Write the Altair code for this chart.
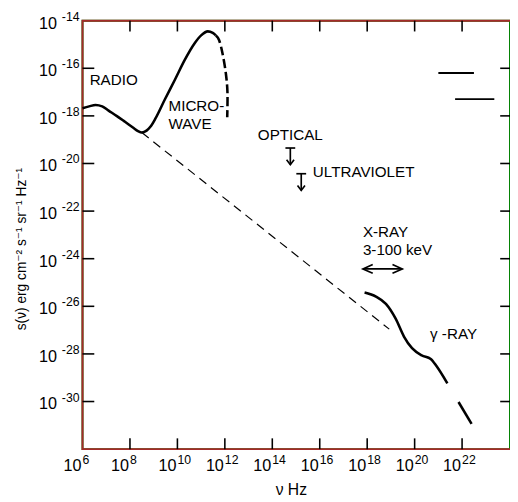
import altair as alt
import pandas as pd

# ---------------- data (log10 values) ----------------
radio_lognu = [6.00, 6.28, 6.55, 6.83, 7.10, 7.45, 7.79, 8.14, 8.34, 8.50, 8.70,
               8.86, 9.07, 9.48, 9.90, 10.31, 10.72, 11.00, 11.28, 11.49, 11.62]
radio_logs = [-17.68, -17.60, -17.54, -17.60, -17.78, -18.01, -18.25, -18.50, -18.64, -18.70, -18.62,
              -18.46, -18.12, -17.29, -16.47, -15.65, -14.96, -14.62, -14.45, -14.51, -14.62]

mw_dash_lognu = [11.62, 11.76, 11.90, 12.04, 12.11, 12.10]
mw_dash_logs = [-14.62, -14.82, -15.37, -16.20, -17.02, -18.06]

ext_lognu = [8.50, 18.93]
ext_logs = [-18.70, -26.96]

gamma_lognu = [17.89, 18.37, 18.79, 19.20, 19.55, 19.89, 20.30, 20.68, 20.92, 21.38]
gamma_logs = [-25.42, -25.59, -25.90, -26.52, -27.27, -27.76, -28.06, -28.21, -28.51, -29.24]

gamma_ext_lognu = [21.85, 22.40]
gamma_ext_logs = [-30.02, -30.94]

limit_lognu = [14.76, 15.22]      # optical, ultraviolet upper limits
limit_logs = [-19.35, -20.43]

xray_band_lognu = [17.82, 19.48]  # 3-100 keV band
xray_band_logs = [-24.43, -24.43]

labels_text = ["RADIO", "MICRO-", "WAVE", "OPTICAL", "ULTRAVIOLET", "X-RAY", "3-100 keV", "γ -RAY"]
labels_lognu = [6.30, 9.625, 9.625, 13.39, 15.71, 17.82, 17.82, 20.65]
labels_logs = [-16.51, -17.60, -18.36, -18.80, -20.38, -22.88, -23.64, -27.18]

x_tick_exp = [6, 8, 10, 12, 14, 16, 18, 20, 22]
y_tick_exp = [-14, -16, -18, -20, -22, -24, -26, -28, -30]

y_title = "s(ν) erg cm⁻² s⁻¹ sr⁻¹ Hz⁻¹"
x_title = "ν   Hz"

# ---------------- layout ----------------
W, H = 436, 437
LX0, LX1 = 6.0, 24.02
LY0, LY1 = -32.0, -14.0
XDOM = [10 ** LX0, 10 ** LX1]
YDOM = [10 ** LY0, 10 ** LY1]
PXX = W / (LX1 - LX0)
PXY = H / (LY1 - LY0)
FONT = "Liberation Sans, DejaVu Sans, sans-serif"
INK = "#000000"

xs = alt.Scale(type="log", domain=XDOM, nice=False)
ys = alt.Scale(type="log", domain=YDOM, nice=False)


def X(f="x"):
    return alt.X(f, type="quantitative", scale=xs, axis=None)


def Y(f="y"):
    return alt.Y(f, type="quantitative", scale=ys, axis=None)


def frame(lx, ly):
    return pd.DataFrame({"x": [10 ** v for v in lx], "y": [10 ** v for v in ly],
                         "i": list(range(len(lx)))})


def segments(polys):
    rows = []
    for s, pts in enumerate(polys):
        for i, (a, b) in enumerate(pts):
            rows.append({"x": 10 ** a, "y": 10 ** b, "seg": s, "i": i})
    return pd.DataFrame(rows)


layers = []

# frame (top, left, bottom): brown test colour
box = [[(LX1, LY1), (LX0, LY1), (LX0, LY0), (LX1, LY0)]]
layers.append(alt.Chart(segments(box)).mark_line(color="#a52a2a", strokeWidth=2).encode(
    x=X(), y=Y(), detail="seg:N", order="i:Q"))

# inward ticks, black
tx = 11 / PXY
ty = 12 / PXX
tr = 10 / PXX
tk = []
for e in x_tick_exp[1:]:
    tk.append([(e, LY1), (e, LY1 - tx)])
    tk.append([(e, LY0), (e, LY0 + tx)])
for e in y_tick_exp[1:]:
    tk.append([(LX0, e), (LX0 + ty, e)])
    tk.append([(LX1 - tr, e), (LX1, e)])
layers.append(alt.Chart(segments(tk)).mark_line(color=INK, strokeWidth=1.6).encode(
    x=X(), y=Y(), detail="seg:N", order="i:Q"))

# test marks in an empty region
layers.append(alt.Chart(pd.DataFrame({"a": [1]})).mark_rule(color=INK, strokeWidth=2).encode(
    x=alt.value(380), x2=alt.value(420), y=alt.value(80)))
layers.append(alt.Chart(segments([[(21.0, -16.2), (22.5, -16.2)]])).mark_line(
    color=INK, strokeWidth=2).encode(x=X(), y=Y(), detail="seg:N", order="i:Q"))

# tick labels
xl = pd.DataFrame({"v": [10.0 ** e for e in x_tick_exp], "b": ["10"] * len(x_tick_exp),
                   "e": [str(e) for e in x_tick_exp]})
yl = pd.DataFrame({"v": [10.0 ** e for e in y_tick_exp], "b": ["10"] * len(y_tick_exp),
                   "e": [str(e) for e in y_tick_exp]})
layers.append(alt.Chart(xl).mark_text(align="right", baseline="middle", dx=-1, font=FONT,
                                      fontSize=16.5, color=INK).encode(
    x=X("v"), y=alt.value(H + 17), text="b:N"))
layers.append(alt.Chart(xl).mark_text(align="left", baseline="middle", dx=0, font=FONT,
                                      fontSize=12.5, color=INK).encode(
    x=X("v"), y=alt.value(H + 11), text="e:N"))
layers.append(alt.Chart(yl).mark_text(align="right", baseline="middle", dy=3, font=FONT,
                                      fontSize=16.5, color=INK).encode(
    y=Y("v"), x=alt.value(-26), text="b:N"))
layers.append(alt.Chart(yl).mark_text(align="right", baseline="middle", dy=-4, font=FONT,
                                      fontSize=12.5, color=INK).encode(
    y=Y("v"), x=alt.value(-3), text="e:N"))

# axis titles
layers.append(alt.Chart(pd.DataFrame({"t": [y_title]})).mark_text(
    angle=270, align="center", baseline="middle", font=FONT, fontSize=14, color=INK).encode(
    x=alt.value(-62), y=alt.value(233), text="t:N"))
layers.append(alt.Chart(pd.DataFrame({"t": [x_title]})).mark_text(
    align="center", baseline="middle", font=FONT, fontSize=16, color=INK).encode(
    x=alt.value(213), y=alt.value(479), text="t:N"))

# curves
layers.append(alt.Chart(frame(ext_lognu, ext_logs)).mark_line(
    color=INK, strokeWidth=1.2, strokeDash=[9, 6]).encode(x=X(), y=Y(), order="i:Q"))
layers.append(alt.Chart(frame(radio_lognu, radio_logs)).mark_line(
    color=INK, strokeWidth=2.6, interpolate="monotone").encode(x=X(), y=Y(), order="i:Q"))
layers.append(alt.Chart(frame(mw_dash_lognu, mw_dash_logs)).mark_line(
    color=INK, strokeWidth=2.6, strokeDash=[9, 4], interpolate="cardinal").encode(
    x=X(), y=Y(), order="i:Q"))
layers.append(alt.Chart(frame(gamma_lognu, gamma_logs)).mark_line(
    color=INK, strokeWidth=2.6, interpolate="monotone").encode(x=X(), y=Y(), order="i:Q"))
layers.append(alt.Chart(frame(gamma_ext_lognu, gamma_ext_logs)).mark_line(
    color=INK, strokeWidth=2.6).encode(x=X(), y=Y(), order="i:Q"))

# upper-limit symbols and the X-ray band double arrow
sym = []
bw, st, aw, ah = 5 / PXX, 17 / PXY, 3.8 / PXX, 5 / PXY
for a, b in zip(limit_lognu, limit_logs):
    sym.append([(a - bw, b), (a + bw, b)])
    sym.append([(a, b), (a, b - st)])
    sym.append([(a - aw, b - st + ah), (a, b - st), (a + aw, b - st + ah)])
hl, hh = 10 / PXX, 4.5 / PXY
xa, xb = xray_band_lognu
yb = xray_band_logs[0]
sym.append([(xa, yb), (xb, yb)])
sym.append([(xa + hl, yb + hh), (xa, yb), (xa + hl, yb - hh)])
sym.append([(xb - hl, yb + hh), (xb, yb), (xb - hl, yb - hh)])
layers.append(alt.Chart(segments(sym)).mark_line(color=INK, strokeWidth=1.7).encode(
    x=X(), y=Y(), detail="seg:N", order="i:Q"))

# annotations
ann = pd.DataFrame({"x": [10 ** v for v in labels_lognu], "y": [10 ** v for v in labels_logs],
                    "t": labels_text})
layers.append(alt.Chart(ann).mark_text(align="left", baseline="middle", font=FONT,
                                       fontSize=15.5, color=INK).encode(
    x=X(), y=Y(), text="t:N"))

chart = alt.layer(*layers).properties(
    width=W, height=H,
    autosize=alt.AutoSizeParams(type="none"),
    padding={"left": 76, "top": 8, "right": 0, "bottom": 49},
    background="white",
).configure_view(stroke="green", strokeWidth=2)

chart.save("out.html", embed_options={"renderer": "svg", "actions": False})
